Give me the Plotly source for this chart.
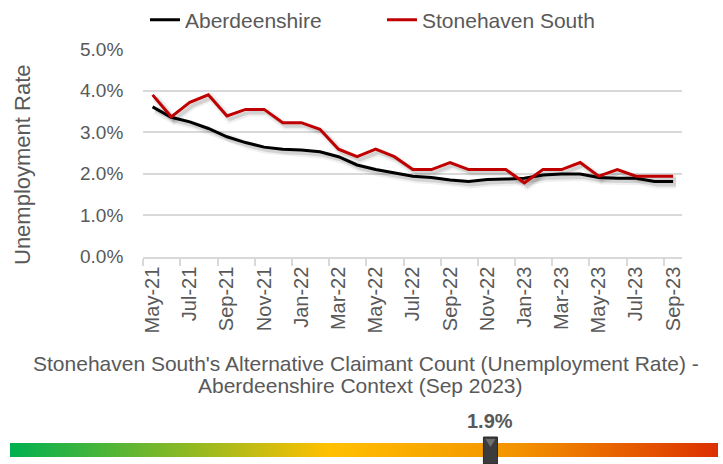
import plotly.graph_objects as go

months = ["May-21", "Jun-21", "Jul-21", "Aug-21", "Sep-21", "Oct-21", "Nov-21", "Dec-21",
          "Jan-22", "Feb-22", "Mar-22", "Apr-22", "May-22", "Jun-22", "Jul-22", "Aug-22",
          "Sep-22", "Oct-22", "Nov-22", "Dec-22", "Jan-23", "Feb-23", "Mar-23", "Apr-23",
          "May-23", "Jun-23", "Jul-23", "Aug-23", "Sep-23"]
aberdeenshire = [3.61, 3.36, 3.25, 3.09, 2.89, 2.75, 2.64, 2.59, 2.57, 2.53, 2.41, 2.21, 2.10, 2.02,
                 1.94, 1.91, 1.85, 1.81, 1.86, 1.87, 1.89, 1.97, 1.99, 1.99, 1.91, 1.89, 1.89, 1.81, 1.81]
stonehaven = [3.90, 3.37, 3.72, 3.90, 3.39, 3.55, 3.55, 3.23, 3.23, 3.07, 2.59, 2.41, 2.59, 2.41,
              2.10, 2.10, 2.27, 2.10, 2.10, 2.10, 1.78, 2.10, 2.10, 2.27, 1.94, 2.10, 1.94, 1.94, 1.94]
y_ticks = [0, 1, 2, 3, 4, 5]
y_tick_labels = ["0.0%", "1.0%", "2.0%", "3.0%", "4.0%", "5.0%"]
gauge_value = 1.9
gauge_range = [0.0, 2.8]
gauge_colors = [[0.0, "#00b050"], [0.45, "#ffc000"], [0.72, "#f39200"], [1.0, "#dc3000"]]

W, H = 723, 464
FONT = "Liberation Sans, Arial, sans-serif"
GREY = "#595959"

# plot area in pixels
px_l, px_r, px_t, px_b = 143.3, 682.4, 49.2, 256.7
xdom = [px_l / W, px_r / W]
ydom = [(H - px_b) / H, (H - px_t) / H]
n = len(months)
xr = [-0.5, n - 0.5]
yr = [0, 5]
# shadow offsets (pixels -> data units)
sx = 3 * (xr[1] - xr[0]) / (px_r - px_l)
sy = 3 * (yr[1] - yr[0]) / (px_b - px_t)

fig = go.Figure()

# soft shadows on hidden, slightly shifted base axes
for vals in (aberdeenshire, stonehaven):
    fig.add_trace(go.Scatter(x=months, y=vals, mode="lines", xaxis="x", yaxis="y",
                             line=dict(color="rgba(0,0,0,0.06)", width=8), showlegend=False,
                             hoverinfo="skip"))
    fig.add_trace(go.Scatter(x=months, y=vals, mode="lines", xaxis="x", yaxis="y",
                             line=dict(color="rgba(0,0,0,0.12)", width=4), showlegend=False,
                             hoverinfo="skip"))

fig.add_trace(go.Scatter(x=months, y=aberdeenshire, mode="lines", name="Aberdeenshire",
                         xaxis="x2", yaxis="y2", line=dict(color="#000000", width=3)))
fig.add_trace(go.Scatter(x=months, y=stonehaven, mode="lines", name="Stonehaven South",
                         xaxis="x2", yaxis="y2", line=dict(color="#c00000", width=3)))

# gauge bar
fig.add_trace(go.Scatter(x=[gauge_range[0], gauge_range[1], gauge_range[1], gauge_range[0]],
                         y=[0, 0, 1, 1], mode="lines", fill="toself", line=dict(width=0),
                         fillgradient=dict(type="horizontal", colorscale=gauge_colors),
                         xaxis="x3", yaxis="y3", showlegend=False, hoverinfo="skip"))

fig.update_layout(
    width=W, height=H,
    margin=dict(l=0, r=0, t=0, b=0, autoexpand=False),
    paper_bgcolor="white", plot_bgcolor="rgba(0,0,0,0)",
    font=dict(family=FONT, color=GREY, size=20),
    showlegend=True,
    legend=dict(orientation="h", x=145 / W, xanchor="left", y=1 - 20 / H, yanchor="middle",
                font=dict(size=21, color=GREY), bgcolor="rgba(0,0,0,0)",
                entrywidth=192, entrywidthmode="pixels"),
    xaxis=dict(domain=xdom, type="category", range=[xr[0] - sx, xr[1] - sx], visible=False,
               fixedrange=True),
    yaxis=dict(domain=ydom, range=[yr[0] + sy, yr[1] + sy], visible=False, fixedrange=True),
    xaxis2=dict(overlaying="x", type="category", range=xr, tickangle=-90, dtick=2, tick0=0,
                tickson="boundaries", ticks="outside", ticklen=7, tickcolor="#d9d9d9",
                tickwidth=1.5, showline=True, linecolor="#d9d9d9", linewidth=2, showgrid=False,
                tickfont=dict(size=20, color=GREY), anchor="y2"),
    yaxis2=dict(overlaying="y", range=yr, tickmode="array", tickvals=y_ticks,
                ticktext=y_tick_labels,
                showgrid=True, gridcolor="#d9d9d9", gridwidth=1.5, zeroline=False,
                showline=False, ticks="", ticklabelstandoff=19,
                tickfont=dict(size=19, color=GREY), anchor="x2"),
    xaxis3=dict(domain=[10 / W, 718 / W], range=gauge_range, visible=False, anchor="y3"),
    yaxis3=dict(domain=[(H - 457) / H, (H - 443) / H], range=[0, 1], visible=False, anchor="x3"),
)

fig.add_annotation(text="Unemployment Rate", textangle=-90, xref="paper", yref="paper",
                   x=22 / W, y=(H - 165) / H, xanchor="center", yanchor="middle",
                   showarrow=False, font=dict(size=22, color=GREY))
fig.add_annotation(text="Stonehaven South's Alternative Claimant Count (Unemployment Rate) -",
                   xref="paper", yref="paper", x=366 / W, y=(H - 363) / H, xanchor="center",
                   yanchor="middle", showarrow=False, font=dict(size=21, color=GREY))
fig.add_annotation(text="Aberdeenshire Context (Sep 2023)",
                   xref="paper", yref="paper", x=360 / W, y=(H - 385) / H, xanchor="center",
                   yanchor="middle", showarrow=False, font=dict(size=21, color=GREY))
fig.add_annotation(text=f"<b>{gauge_value:.1f}%</b>", xref="x3", yref="paper", x=gauge_value,
                   y=(H - 420.5) / H, xanchor="center", yanchor="middle", showarrow=False,
                   font=dict(size=20, color=GREY))

# gauge marker (anchored on the value)
fig.add_shape(type="rect", xref="x3", yref="paper", xsizemode="pixel", ysizemode="pixel",
              xanchor=gauge_value, yanchor=0, x0=-7, x1=7, y0=0, y1=27,
              fillcolor="#3c3c3c", line=dict(color="#2a2a2a", width=1))
fig.add_shape(type="path", xref="x3", yref="paper", xsizemode="pixel", ysizemode="pixel",
              xanchor=gauge_value, yanchor=0, path="M -5 25 L 5 25 L 0 17 Z",
              fillcolor="#6e6e6e", line=dict(width=0))

fig.write_html("out.html", config={"displayModeBar": False},
               post_script="document.body.style.margin='0';")
